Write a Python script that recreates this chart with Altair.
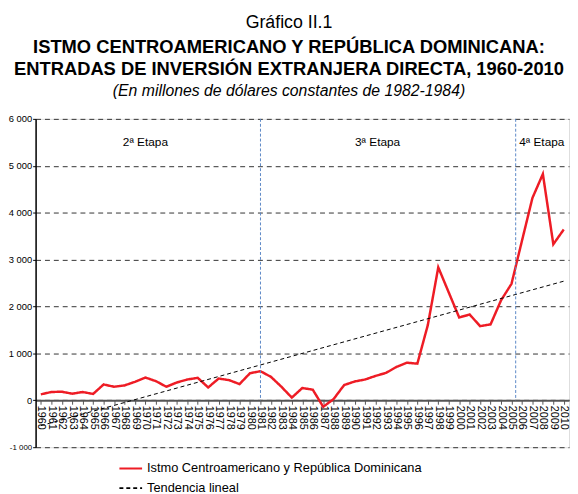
import altair as alt
import pandas as pd

FONT = "Liberation Sans"

years = list(range(1960, 2011))
ied = [127, 177, 183, 141, 177, 135, 338, 289, 317, 394,
       485, 409, 289, 380, 443, 479, 274, 464, 430, 346,
       578, 620, 500, 289, 57, 262, 226, -139, 29, 325,
       401, 443, 520, 584, 711, 802, 781, 1603, 2835, 2300,
       1766, 1829, 1582, 1618, 2131, 2483, 3400, 4312, 4825, 3327,
       3643]
trend_years = [1960, 2010]
trend_vals = [-540, 2540]
stage_lines = [1981, 2005.4]
stage_names = ["2ª Etapa", "3ª Etapa", "4ª Etapa"]
stage_pos = [1970, 1992.2, 2007.9]
stage_level = [5500, 5500, 5500]
series_names = ["Istmo Centroamericano y República Dominicana", "Tendencia lineal"]
y_ticks = [-1000, 0, 1000, 2000, 3000, 4000, 5000, 6000]
title_1 = "Gráfico II.1"
title_2 = "ISTMO CENTROAMERICANO Y REPÚBLICA DOMINICANA:"
title_3 = "ENTRADAS DE INVERSIÓN EXTRANJERA DIRECTA, 1960-2010"
title_4 = "(En millones de dólares constantes de 1982-1984)"

W, H = 541, 333
LEFT = 28

main = pd.DataFrame({"year": years, "v": ied, "serie": series_names[0]})
trend = pd.DataFrame({"year": trend_years, "v": trend_vals, "serie": series_names[1]})
rules = pd.DataFrame({"year": stage_lines})
stages = pd.DataFrame({"year": stage_pos, "v": stage_level, "t": stage_names})
one = pd.DataFrame({"a": [0]})

xs = alt.Scale(domain=[1959.5, 2010.5], nice=False, zero=False)
ys = alt.Scale(domain=[-1000, 6000], nice=False, zero=False)

leg = alt.Legend(title=None, orient="none", legendX=84, legendY=342,
                 symbolType="stroke", symbolSize=529, symbolStrokeWidth=2,
                 labelFont=FONT, labelFontSize=13, labelColor="#000", labelLimit=500,
                 rowPadding=0, symbolOffset=0)

color = alt.Color("serie:N", scale=alt.Scale(domain=series_names, range=["#ee1c25", "#000000"]), legend=leg)
dash = alt.StrokeDash("serie:N", scale=alt.Scale(domain=series_names, range=[[1, 0], [4, 3]]), legend=leg)

x_axis = alt.Axis(
    values=years, format="d", labelAngle=90, labelAlign="left", labelBaseline="middle",
    grid=False, offset=-47.6, domainColor="#555", domainWidth=2, tickColor="#555",
    tickSize=4, labelFontSize=11, labelFont=FONT, labelColor="#000", title=None,
    labelOverlap=False, labelPadding=1, labelFlush=False, labelBound=False)
y_axis = alt.Axis(
    values=y_ticks, title=None, grid=True, gridDash=[5, 4], gridColor="#333", gridWidth=1,
    domainColor="#000", domainWidth=1.5, tickColor="#000", tickSize=3,
    labelFont=FONT,
    labelFontSize={"condition": {"test": "datum.value < 0", "value": 8}, "value": 9.5},
    labelColor="#000", labelPadding=1,
    labelExpr="replace(replace(format(datum.value, ','), ',', ' '), '\u2212', '-')")

x_enc = alt.X("year:Q", scale=xs, axis=x_axis)
y_enc = alt.Y("v:Q", scale=ys, axis=y_axis)

main_layer = alt.Chart(main).mark_line(strokeWidth=2.5).encode(
    x=x_enc, y=y_enc, color=color, strokeDash=dash)
trend_layer = alt.Chart(trend).mark_line(strokeWidth=1).encode(
    x=x_enc, y=y_enc, color=color, strokeDash=dash)
rule_layer = alt.Chart(rules).mark_rule(color="#5b87c6", strokeDash=[3, 2], strokeWidth=1).encode(
    x=x_enc, y=alt.datum(6000), y2=alt.datum(0))
stage_layer = alt.Chart(stages).mark_text(font=FONT, fontSize=12, color="#000").encode(
    x=x_enc, y=y_enc, text="t:N")

def ttl(txt, y, size, weight="normal", style="normal"):
    return alt.Chart(one).mark_text(text=txt, font=FONT, fontSize=size, fontWeight=weight,
                                    fontStyle=style, color="#000", align="center",
                                    baseline="middle").encode(x=alt.value(257), y=alt.value(y))

chart = alt.layer(
    main_layer, trend_layer, rule_layer, stage_layer,
    ttl(title_1, -97, 18),
    ttl(title_2, -73, 18.6, "bold"),
    ttl(title_3, -50, 18.6, "bold"),
    ttl(title_4, -28, 16, "normal", "italic"),
).properties(
    width=W, height=H,
    autosize=alt.AutoSizeParams(type="none"),
    padding={"left": LEFT, "top": 109, "right": 1, "bottom": 44},
).configure_view(stroke=None).configure(background="white")

chart.save("out.html", embed_options={"renderer": "svg", "actions": False})
